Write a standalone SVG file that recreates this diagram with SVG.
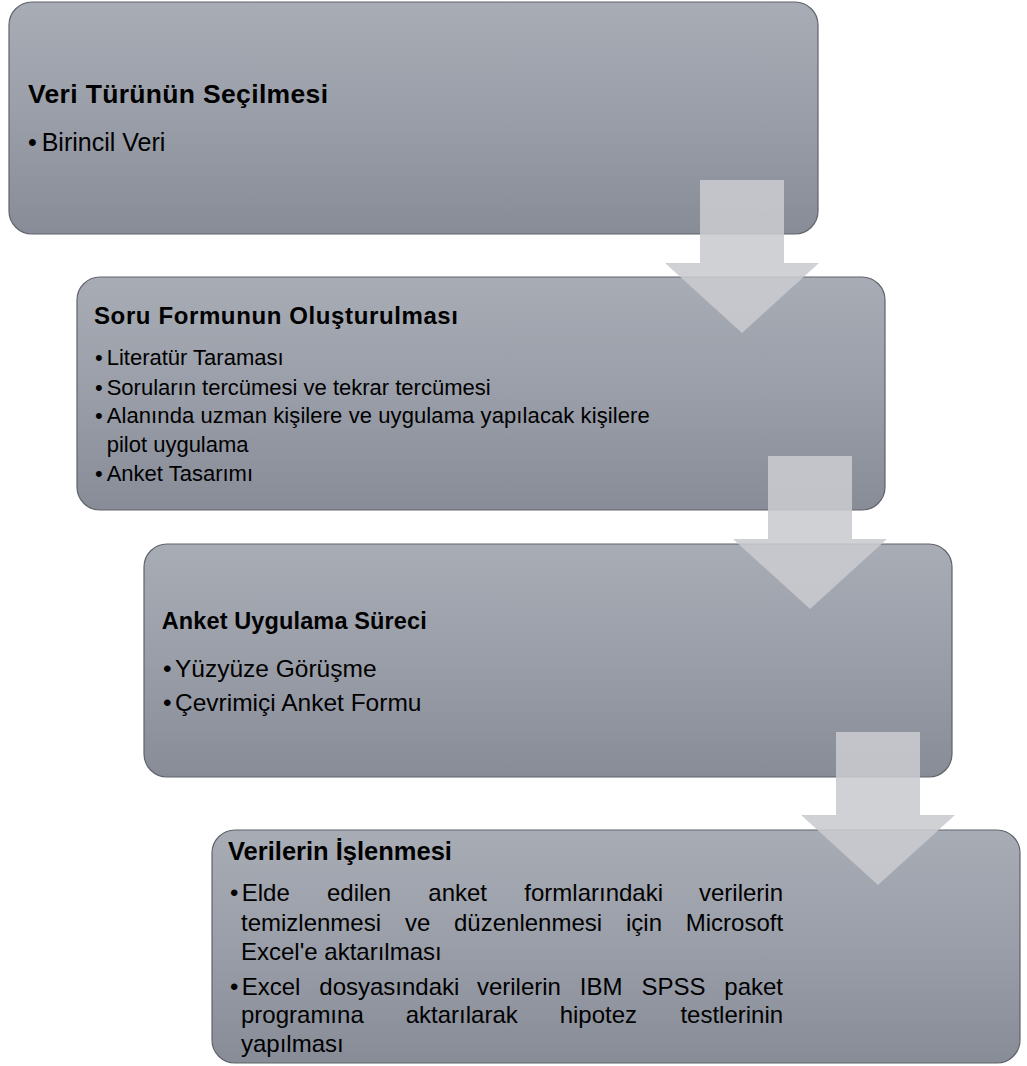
<svg xmlns="http://www.w3.org/2000/svg" width="1027" height="1066" viewBox="0 0 1027 1066">
<defs>
<linearGradient id="boxGrad" x1="0" y1="0" x2="0" y2="1">
<stop offset="0" stop-color="#a8acb5"/>
<stop offset="0.5" stop-color="#9a9ea8"/>
<stop offset="1" stop-color="#878c97"/>
</linearGradient>
<style>
.box{fill:url(#boxGrad);stroke:#5f636b;stroke-width:1.2}
.arrow{fill:#cacbcf;fill-opacity:0.88;stroke:none}
text{font-family:"Liberation Sans",Arial,sans-serif;fill:#000}
.t{font-weight:bold}
</style>
</defs>
<rect width="1027" height="1066" fill="#ffffff"/>
<g id="node1">
<rect class="box" x="9" y="2" width="809" height="232" rx="23"/>
<text class="t" x="28" y="103" font-size="26.5" textLength="300" lengthAdjust="spacing">Veri Türünün Seçilmesi</text>
<text x="28" y="151" font-size="25">•<tspan x="41.7">Birincil Veri</tspan></text>
</g>
<g id="node2">
<rect class="box" x="77" y="277" width="808" height="233" rx="23"/>
<text class="t" x="94" y="324" font-size="24" textLength="364" lengthAdjust="spacing">Soru Formunun Oluşturulması</text>
<g font-size="22">
<text x="95" y="365">•<tspan x="106.7">Literatür Taraması</tspan></text>
<text x="95" y="395">•<tspan x="106.7">Soruların tercümesi ve tekrar tercümesi</tspan></text>
<text x="95" y="423">•<tspan x="106.7" textLength="543" lengthAdjust="spacing">Alanında uzman kişilere ve uygulama yapılacak kişilere</tspan></text>
<text x="106.7" y="452">pilot uygulama</text>
<text x="95" y="481">•<tspan x="106.7">Anket Tasarımı</tspan></text>
</g>
</g>
<g id="node3">
<rect class="box" x="144" y="544" width="808" height="233" rx="23"/>
<text class="t" x="161.7" y="629" font-size="23.5" textLength="265" lengthAdjust="spacing">Anket Uygulama Süreci</text>
<g font-size="24.5">
<text x="163" y="677">•<tspan x="175">Yüzyüze Görüşme</tspan></text>
<text x="163" y="711">•<tspan x="175">Çevrimiçi Anket Formu</tspan></text>
</g>
</g>
<g id="node4">
<rect class="box" x="212" y="830" width="808" height="233" rx="23"/>
<text class="t" x="228" y="860" font-size="25.5">Verilerin İşlenmesi</text>
<g font-size="24">
<text x="230" y="901">•<tspan x="241.7">Elde </tspan><tspan x="327">edilen </tspan><tspan x="428.3">anket </tspan><tspan x="524.3">formlarındaki </tspan><tspan x="699">verilerin</tspan></text>
<text x="241" y="931">temizlenmesi <tspan x="404.9">ve </tspan><tspan x="454">düzenlenmesi </tspan><tspan x="626">için </tspan><tspan x="685.8">Microsoft</tspan></text>
<text x="241" y="960">Excel'e aktarılması</text>
<text x="230" y="995">•<tspan x="241.7">Excel </tspan><tspan x="319.3">dosyasındaki </tspan><tspan x="476.9">verilerin </tspan><tspan x="579.8">IBM </tspan><tspan x="641.4">SPSS </tspan><tspan x="724.3">paket</tspan></text>
<text x="241" y="1023">programına <tspan x="405.7">aktarılarak </tspan><tspan x="559.7">hipotez </tspan><tspan x="680.4">testlerinin</tspan></text>
<text x="241" y="1052">yapılması</text>
</g>
</g>
<g id="connectors">
<path class="arrow" d="M700,180 H784 V263 H819 L742,333 L665,263 H700 Z"/>
<path class="arrow" d="M768,456 H852 V539 H887 L810,609 L733,539 H768 Z"/>
<path class="arrow" d="M836,732 H920 V815 H955 L878,885 L801,815 H836 Z"/>
</g>
</svg>
